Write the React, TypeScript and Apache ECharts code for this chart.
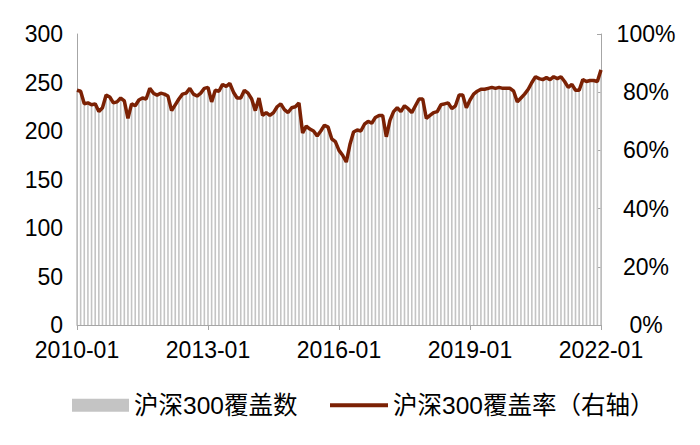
import React, { useEffect, useRef } from "react";
import * as echarts from "echarts";

const startYear = 2010;
const monthCount = 145;

// 沪深300覆盖数 (monthly, 2010-01 .. 2022-01)
const counts2010 = [242, 241, 228, 229, 227, 228, 220, 224, 237, 235, 229, 230];
const counts2011 = [234, 231, 213, 228, 226, 232, 234, 233, 244, 239, 237, 239];
const counts2012 = [238, 236, 221, 227, 233, 238, 239, 244, 238, 236, 239, 244];
const counts2013 = [245, 230, 242, 241, 248, 246, 249, 240, 234, 234, 242, 239];
const counts2014 = [233, 221, 234, 216, 219, 216, 219, 225, 228, 222, 219, 224];
const counts2015 = [225, 229, 198, 205, 202, 200, 195, 200, 206, 204, 192, 189];
const counts2016 = [180, 175, 168, 186, 199, 201, 200, 207, 210, 208, 214, 216];
const counts2017 = [216, 194, 211, 220, 224, 220, 226, 223, 219, 226, 233, 233];
const counts2018 = [213, 216, 219, 220, 227, 228, 229, 223, 226, 237, 237, 224];
const counts2019 = [232, 238, 241, 243, 243, 244, 245, 244, 245, 244, 244, 244];
const counts2020 = [241, 230, 234, 238, 243, 250, 256, 254, 253, 255, 253, 256];
const counts2021 = [254, 256, 251, 245, 248, 242, 242, 253, 251, 252, 252, 251];
const counts2022 = [263];

const counts = [
  ...counts2010, ...counts2011, ...counts2012, ...counts2013, ...counts2014,
  ...counts2015, ...counts2016, ...counts2017, ...counts2018, ...counts2019,
  ...counts2020, ...counts2021, ...counts2022,
];

const indexSize = 300;
// 覆盖率 = 覆盖数 / 300
const rates = counts.map((c) => (c / indexSize) * 100);

const months: string[] = [];
for (let i = 0; i < monthCount; i++) {
  const y = startYear + Math.floor(i / 12);
  const m = (i % 12) + 1;
  months.push(`${y}-${m < 10 ? "0" + m : m}`);
}

const leftTicks = [0, 300, 50];
const rightTicks = [0, 100, 20];

const FONT = "'Liberation Sans', Arial, 'Noto Sans CJK SC', sans-serif";
const FS = 23;
const LFS = 24.5;

export default function App() {
  const ref = useRef<HTMLDivElement>(null);
  useEffect(() => {
    if (!ref.current) return;
    const chart = echarts.init(ref.current, undefined, { renderer: "svg" });
    chart.setOption({
      animation: false,
      backgroundColor: "#ffffff",
      textStyle: { fontFamily: FONT },
      grid: { left: 77, right: 99, top: 34, bottom: 120, containLabel: false },
      legend: [
        {
          data: [{ name: "沪深300覆盖数", icon: "rect" }],
          left: 72,
          top: 393,
          padding: 0,
          itemWidth: 57,
          itemHeight: 13,
          textStyle: { fontSize: LFS, color: "#000", fontFamily: FONT },
        },
        {
          data: [{ name: "沪深300覆盖率（右轴）", icon: "rect" }],
          left: 330,
          top: 393,
          padding: 0,
          itemWidth: 58,
          itemHeight: 4,
          textStyle: { fontSize: LFS, color: "#000", fontFamily: FONT },
        },
      ],
      xAxis: {
        type: "category",
        data: months,
        boundaryGap: false,
        axisLine: { show: true, lineStyle: { color: "#a6a6a6", width: 1 } },
        axisTick: { show: true, interval: 35, length: 5, lineStyle: { color: "#a6a6a6" } },
        axisLabel: {
          interval: 35,
          fontSize: FS,
          color: "#000",
          margin: 13,
          fontFamily: FONT,
        },
        splitLine: { show: false },
      },
      yAxis: [
        {
          type: "value",
          min: leftTicks[0],
          max: leftTicks[1],
          interval: leftTicks[2],
          axisLine: { show: true, lineStyle: { color: "#a6a6a6" } },
          axisTick: { show: false },
          axisLabel: { fontSize: FS, color: "#000", margin: 14, fontFamily: FONT },
          splitLine: { show: false },
        },
        {
          type: "value",
          min: rightTicks[0],
          max: rightTicks[1],
          interval: rightTicks[2],
          position: "right",
          axisLine: { show: true, lineStyle: { color: "#a6a6a6" } },
          axisTick: { show: true, inside: true, length: 4, lineStyle: { color: "#a6a6a6" } },
          axisLabel: {
            fontSize: FS,
            color: "#000",
            margin: 45,
            align: "center",
            fontFamily: FONT,
            formatter: "{value}%",
          },
          splitLine: { show: false },
        },
      ],
      series: [
        {
          name: "沪深300覆盖数",
          type: "bar",
          yAxisIndex: 0,
          data: counts,
          barWidth: 1.6,
          itemStyle: { color: "#c4c4c4" },
          z: 1,
        },
        {
          name: "沪深300覆盖率（右轴）",
          type: "line",
          yAxisIndex: 1,
          data: rates,
          showSymbol: false,
          symbol: "none",
          lineStyle: { color: "#7b2104", width: 3.5 },
          itemStyle: { color: "#7b2104" },
          z: 3,
        },
      ],
    });
    return () => chart.dispose();
  }, []);
  return (
    <div
      ref={ref}
      style={{ position: "absolute", left: 0, top: 0, width: 700, height: 445 }}
    />
  );
}
